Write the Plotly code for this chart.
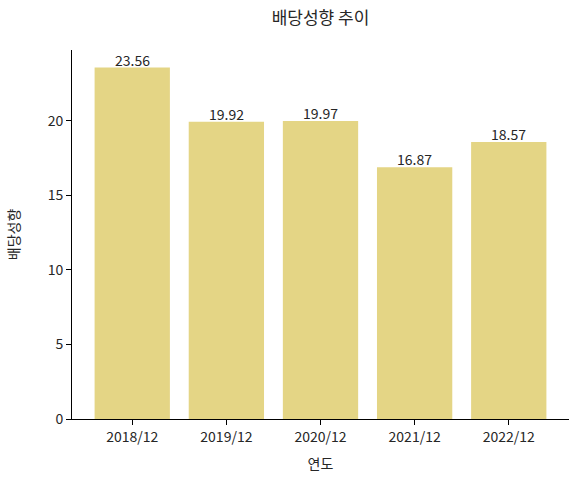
import plotly.graph_objects as go

years = ["2018/12", "2019/12", "2020/12", "2021/12", "2022/12"]
payout = [23.56, 19.92, 19.97, 16.87, 18.57]
labels = [f"{v:.2f}" for v in payout]

FONT = "Noto Sans CJK KR, Noto Sans, DejaVu Sans"
bar_color = "#e4d585"

fig = go.Figure()
fig.add_trace(go.Bar(x=list(range(len(years))), y=payout, width=0.8,
                     marker=dict(color=bar_color, line=dict(width=0)),
                     hoverinfo="skip"))

for i, (v, t) in enumerate(zip(payout, labels)):
    fig.add_annotation(x=i, y=v, text=t, showarrow=False, yanchor="bottom",
                       yshift=-4, font=dict(size=14, color="#262626", family=FONT))

fig.update_layout(
    width=578, height=479,
    margin=dict(l=72, r=9, t=50, b=60, autoexpand=False),
    paper_bgcolor="white", plot_bgcolor="white",
    showlegend=False,
    font=dict(family=FONT, size=14, color="#262626"),
    title=dict(text="배당성향 추이", x=0.5, xref="paper", xanchor="center",
               yref="container", y=1 - 18 / 479, yanchor="middle", automargin=False,
               font=dict(size=17, color="#262626", family=FONT)),
    xaxis=dict(range=[-0.64, 4.64], tickmode="array", tickvals=list(range(len(years))),
               ticktext=years, showline=True, linecolor="black", linewidth=1,
               ticks="outside", ticklen=5, tickcolor="black", showgrid=False,
               zeroline=False, mirror=False, automargin=False,
               tickfont=dict(size=14),
               title=dict(text="연도", standoff=14, font=dict(size=14))),
    yaxis=dict(range=[0, 24.738], tickvals=[0, 5, 10, 15, 20],
               showline=True, linecolor="black", linewidth=1,
               ticks="outside", ticklen=5, tickcolor="black", showgrid=False,
               zeroline=False, automargin=False,
               tickfont=dict(size=14),
               title=dict(text="배당성향", standoff=24, font=dict(size=14))),
)

fig.write_html("out.html", config={"displayModeBar": False, "staticPlot": True},
               post_script="document.body.style.margin='0';")
